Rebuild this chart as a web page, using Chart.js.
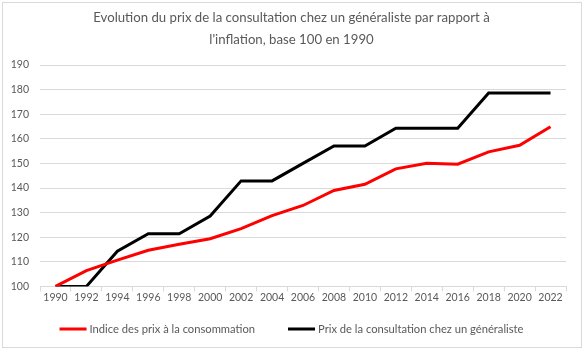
<!DOCTYPE html>
<html>
<head>
<meta charset="utf-8">
<script src="https://cdn.jsdelivr.net/npm/chart.js@4/dist/chart.umd.min.js"></script>
<style>
  html, body { margin: 0; padding: 0; background: #ffffff; }
  #wrap { position: relative; width: 583px; height: 349px; }
  #frame { position: absolute; left: 2px; top: 2px; width: 578px; height: 344px; border: 1px solid #d9d9d9; box-sizing: content-box; }
  #c { position: absolute; left: 0; top: 0; }
</style>
</head>
<body>
<div id="wrap">
  <div id="frame"></div>
  <canvas id="c" width="583" height="349"></canvas>
</div>
<script>
// Années (base 100 en 1990)
const years = ['1990','1992','1994','1996','1998','2000','2002','2004','2006','2008','2010','2012','2014','2016','2018','2020','2022'];
// Indice des prix à la consommation
const cpiIndex = [100, 106.4, 110.7, 114.7, 117.1, 119.4, 123.5, 128.8, 132.9, 139.0, 141.5, 147.8, 150.1, 149.7, 154.7, 157.4, 164.9];
// Prix de la consultation chez un généraliste
const consultIndex = [100, 100, 114.3, 121.4, 121.4, 128.6, 142.9, 142.9, 150.0, 157.1, 157.1, 164.3, 164.3, 164.3, 178.6, 178.6, 178.6];
const yTicks = { min: 100, max: 190, step: 10 };

const titleLines = ["Evolution du prix de la consultation chez un généraliste par rapport à", "l'inflation, base 100 en 1990"];
const seriesNames = ['Indice des prix à la consommation', 'Prix de la consultation chez un généraliste'];

const FONT = 'Lato, "Open Sans", sans-serif';
const TXT = '#595959';
const GRID = '#d9d9d9';

// Légende en bas : trait court de la couleur de la série, puis son nom
const bottomLegend = {
  id: 'bottomLegend',
  afterDraw(chart) {
    const ctx = chart.ctx;
    const sample = 27, gap = 3, between = 33;
    ctx.save();
    ctx.font = '11.2px ' + FONT;
    ctx.textBaseline = 'middle';
    ctx.textAlign = 'left';
    const items = chart.data.datasets.map(ds => ({
      ds, w: sample + gap + ctx.measureText(ds.label).width
    }));
    const total = items.reduce((s, it) => s + it.w, 0) + between * (items.length - 1);
    let x = (chart.width - total) / 2;
    const y = chart.height - 20;
    items.forEach(it => {
      ctx.fillStyle = it.ds.borderColor;
      ctx.fillRect(x, y - 1.5, sample, 3);
      ctx.fillStyle = TXT;
      ctx.fillText(it.ds.label, x + sample + gap, y);
      x += it.w + between;
    });
    ctx.restore();
  }
};

new Chart(document.getElementById('c'), {
  type: 'line',
  data: {
    labels: years,
    datasets: [
      { label: seriesNames[0], data: cpiIndex, borderColor: '#ff0000', backgroundColor: '#ff0000', borderWidth: 3, pointRadius: 0, tension: 0 },
      { label: seriesNames[1], data: consultIndex, borderColor: '#000000', backgroundColor: '#000000', borderWidth: 3, pointRadius: 0, tension: 0 }
    ]
  },
  plugins: [bottomLegend],
  options: {
    responsive: false,
    animation: false,
    devicePixelRatio: 1,
    layout: { padding: { left: 0, right: 0, top: 3, bottom: 45 } },
    plugins: {
      title: {
        display: true,
        text: titleLines,
        color: TXT,
        font: { family: FONT, size: 13.2, weight: 'normal', lineHeight: 1.63 },
        padding: { top: 4, bottom: 15 }
      },
      legend: { display: false },
      tooltip: { enabled: false }
    },
    scales: {
      x: {
        type: 'category',
        offset: true,
        grid: { offset: true, drawOnChartArea: false, drawTicks: true, tickLength: 5, color: GRID },
        border: { display: true, color: GRID },
        ticks: { color: TXT, font: { family: FONT, size: 10.5 }, maxRotation: 0, autoSkip: false, padding: 0 }
      },
      y: {
        min: yTicks.min,
        max: yTicks.max,
        grid: { color: GRID, drawTicks: false },
        border: { display: false },
        ticks: { stepSize: yTicks.step, color: TXT, font: { family: FONT, size: 10.5 }, padding: 11 },
        afterFit(scale) { scale.width = 40; }
      },
      // marge de droite du tracé, sans graduation
      yRight: {
        position: 'right',
        min: yTicks.min,
        max: yTicks.max,
        grid: { display: false },
        border: { display: false },
        ticks: { display: false },
        afterFit(scale) { scale.width = 17; }
      }
    }
  }
});
</script>
</body>
</html>
